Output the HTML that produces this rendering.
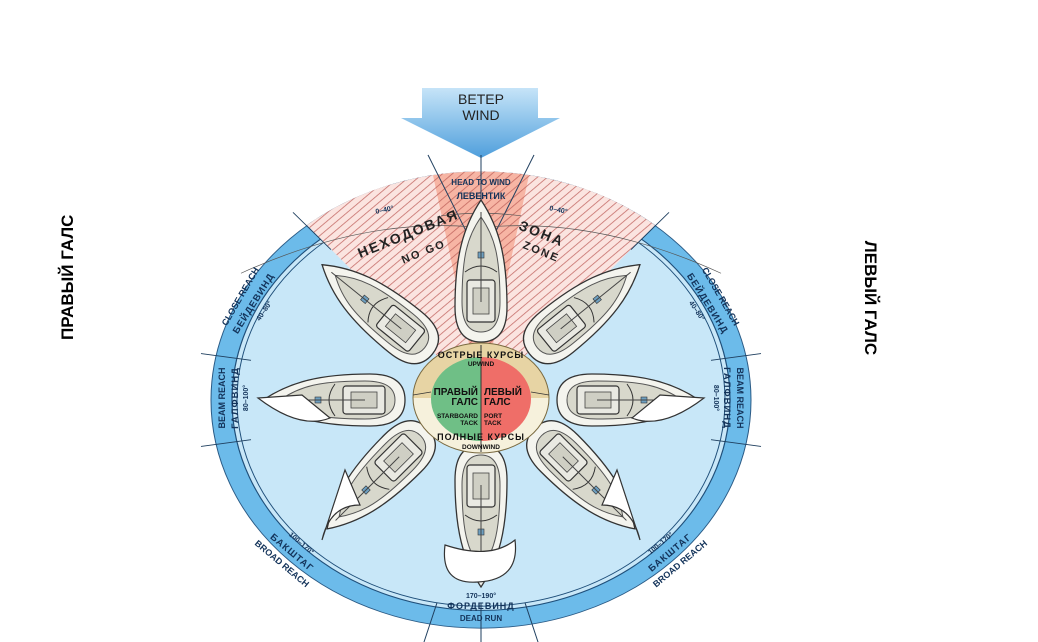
<!DOCTYPE html>
<html><head><meta charset="utf-8"><style>
html,body{margin:0;padding:0;background:#fff;}
body{width:1038px;height:642px;overflow:hidden;position:relative;font-family:"Liberation Sans","DejaVu Sans",sans-serif;}
.side{position:absolute;font-weight:bold;font-size:17px;white-space:nowrap;color:#000;}
</style></head><body>
<div class="side" style="left:8px;top:270px;transform:rotate(-90deg);width:120px;text-align:center;">ПРАВЫЙ ГАЛС</div>
<div class="side" style="left:810px;top:288px;transform:rotate(90deg);width:120px;text-align:center;">ЛЕВЫЙ ГАЛС</div>
<svg width="1038" height="642" viewBox="0 0 1038 642" style="position:absolute;left:0;top:0">
<defs>
<linearGradient id="wg" x1="0" y1="0" x2="0" y2="1"><stop offset="0" stop-color="#c6e4f8"/><stop offset="1" stop-color="#4f9fdc"/></linearGradient>
<pattern id="hatch" width="7" height="7" patternUnits="userSpaceOnUse" patternTransform="rotate(45)">
<rect width="7" height="7" fill="#fbe4e0"/><line x1="0" y1="0" x2="0" y2="7" stroke="#c7726e" stroke-width="1.8"/></pattern>
<pattern id="hatch2" width="7" height="7" patternUnits="userSpaceOnUse" patternTransform="rotate(45)">
<rect width="7" height="7" fill="#f7b5a4"/><line x1="0" y1="0" x2="0" y2="7" stroke="#c56a62" stroke-width="1.8"/></pattern>
<g id="boat">
<path d="M0,-72 C18,-45 26,-15 26,35 Q26,70 0,70 Q-26,70 -26,35 C-26,-15 -18,-45 0,-72Z" fill="#f4f4ee" stroke="#333" stroke-width="1.3"/>
<path d="M0,-55 C14,-35 19,-15 19,30 Q19,60 0,60 Q-19,60 -19,30 C-19,-15 -14,-35 0,-55Z" fill="#d8d8cc" stroke="#555" stroke-width="1"/>
<rect x="-14" y="8" width="28" height="42" rx="3" fill="#e9e9e2" stroke="#333" stroke-width="1.2"/>
<rect x="-8" y="16" width="16" height="26" fill="#cfcfc4" stroke="#444" stroke-width="0.8"/>
<path d="M-16,0 Q0,-12 16,0" fill="none" stroke="#333" stroke-width="1"/>
<rect x="-3" y="-20" width="6" height="6" fill="#6d9fc0" stroke="#333" stroke-width="0.6"/>
<line x1="0" y1="-60" x2="0" y2="30" stroke="#444" stroke-width="1"/>
</g>
</defs>
<!-- wind arrow -->
<path d="M422,88 H538 V118 H560 L481,158 L401,118 H422Z" fill="url(#wg)"/>
<text x="481" y="104" font-size="14" text-anchor="middle" fill="#222">ВЕТЕР</text>
<text x="481" y="120" font-size="14" text-anchor="middle" fill="#222">WIND</text>
<!-- main disk -->
<g transform="translate(481,400) scale(1,0.845)">
<circle r="270" fill="#6cbbea" stroke="#2a5a85" stroke-width="1"/>
<circle r="249" fill="#c8e7f8" stroke="#1f4f7a" stroke-width="1.2"/>
<circle r="244" fill="none" stroke="#1f4f7a" stroke-width="1"/>
<path d="M0,0 L-174,-207 A270,270 0 0,1 174,-207Z" fill="url(#hatch)"/>
<path d="M0,0 L-48,-266 A271,271 0 0,1 48,-266Z" fill="url(#hatch2)"/>
<g stroke="#1f3f5f" stroke-width="1">
<line x1="-150" y1="-178" x2="-188" y2="-222"/><line x1="150" y1="-178" x2="188" y2="-222"/>
<line x1="-15" y1="-200" x2="-53" y2="-290"/><line x1="15" y1="-200" x2="53" y2="-290"/>
<line x1="0" y1="-130" x2="0" y2="-290"/>
<line x1="-230" y1="-47" x2="-280" y2="-55"/><line x1="230" y1="-47" x2="280" y2="-55"/>
<line x1="-230" y1="47" x2="-280" y2="55"/><line x1="230" y1="47" x2="280" y2="55"/>
<line x1="-44" y1="240" x2="-58" y2="290"/><line x1="44" y1="240" x2="58" y2="290"/>
<line x1="0" y1="240" x2="0" y2="290"/>
</g>
<path d="M-240,-150 Q-120,-215 -10,-205" fill="none" stroke="#555" stroke-width="0.8"/>
<path d="M240,-150 Q120,-215 10,-205" fill="none" stroke="#555" stroke-width="0.8"/>
<path d="M-40,-218 Q0,-224 40,-218" fill="none" stroke="#555" stroke-width="0.8"/>
</g>
<!-- boats -->
<use href="#boat" transform="translate(481,272)"/>
<use href="#boat" transform="translate(378,310) rotate(-51)"/>
<use href="#boat" transform="translate(584,310) rotate(51)"/>
<use href="#boat" transform="translate(335,400) rotate(-90)"/>
<use href="#boat" transform="translate(627,400) rotate(90)"/>
<use href="#boat" transform="translate(378,478) rotate(-135)"/>
<use href="#boat" transform="translate(584,478) rotate(135)"/>
<use href="#boat" transform="translate(481,515) rotate(180)"/>
<!-- sails -->
<g fill="#fff" stroke="#333" stroke-width="1.2">
<path d="M445,545 Q440,585 478,582 Q520,580 515,540 Q490,560 445,545Z"/>
<path d="M258,398 Q300,430 330,418 L302,395Z"/>
<path d="M704,398 Q662,430 632,418 L660,395Z"/>
<path d="M322,540 Q330,505 360,505 L345,470Z"/>
<path d="M640,540 Q632,505 602,505 L617,470Z"/>
</g>
<!-- center disk -->
<ellipse cx="481" cy="398" rx="68" ry="55" fill="#f6f1dc"/>
<path d="M413,398 A68,55 0 0,1 549,398Z" fill="#e7d4a4"/>
<ellipse cx="481" cy="398" rx="68" ry="55" fill="none" stroke="#7a6a40" stroke-width="1"/>
<path d="M481,357 A50,42 0 0,0 481,441Z" fill="#6fbf86"/>
<path d="M481,357 A50,42 0 0,1 481,441Z" fill="#ef6e68"/>
<line x1="481" y1="345" x2="481" y2="452" stroke="#333" stroke-width="1"/>
<line x1="413" y1="395" x2="431" y2="392" stroke="#333" stroke-width="0.8"/>
<line x1="531" y1="392" x2="549" y2="395" stroke="#333" stroke-width="0.8"/>
<g font-weight="bold" fill="#111">
<text x="478" y="395" font-size="10" text-anchor="end">ПРАВЫЙ</text>
<text x="478" y="405" font-size="10" text-anchor="end">ГАЛС</text>
<text x="484" y="395" font-size="10">ЛЕВЫЙ</text>
<text x="484" y="405" font-size="10">ГАЛС</text>
<text x="478" y="418" font-size="6.5" text-anchor="end">STARBOARD</text>
<text x="478" y="425" font-size="6.5" text-anchor="end">TACK</text>
<text x="484" y="418" font-size="6.5">PORT</text>
<text x="484" y="425" font-size="6.5">TACK</text>
<text x="481" y="358" font-size="9" text-anchor="middle" letter-spacing="1">ОСТРЫЕ КУРСЫ</text>
<text x="481" y="366" font-size="6.5" text-anchor="middle">UPWIND</text>
<text x="481" y="440" font-size="9" text-anchor="middle" letter-spacing="1">ПОЛНЫЕ КУРСЫ</text>
<text x="481" y="449" font-size="6.5" text-anchor="middle">DOWNWIND</text>
</g>
<!-- ring labels -->
<g font-size="9" font-weight="bold" fill="#13335a" text-anchor="middle">
<text x="481" y="185" font-size="8">HEAD TO WIND</text>
<text x="481" y="199" font-size="9">ЛЕВЕНТИК</text>
<text transform="translate(410,238) rotate(-22)" font-size="14" letter-spacing="2" fill="#222">НЕХОДОВАЯ</text>
<text transform="translate(425,255) rotate(-22)" font-size="11" letter-spacing="2" fill="#222">NO GO</text>
<text transform="translate(540,238) rotate(22)" font-size="14" letter-spacing="2" fill="#222">ЗОНА</text>
<text transform="translate(540,255) rotate(22)" font-size="11" letter-spacing="2" fill="#222">ZONE</text>
<text transform="translate(385,212) rotate(-12)" font-size="7">0–40°</text>
<text transform="translate(558,212) rotate(12)" font-size="7">0–40°</text>
<text transform="translate(243,298) rotate(-60)">CLOSE REACH</text>
<text transform="translate(256,305) rotate(-58)" font-size="9.5" letter-spacing="1">БЕЙДЕВИНД</text>
<text transform="translate(266,312) rotate(-56)" font-size="7">40–80°</text>
<text transform="translate(718,298) rotate(60)">CLOSE REACH</text>
<text transform="translate(705,305) rotate(58)" font-size="9.5" letter-spacing="1">БЕЙДЕВИНД</text>
<text transform="translate(695,312) rotate(56)" font-size="7">40–80°</text>
<text transform="translate(225,398) rotate(-90)">BEAM REACH</text>
<text transform="translate(238,398) rotate(-90)" font-size="9.5" letter-spacing="1">ГАЛФВИНД</text>
<text transform="translate(248,398) rotate(-90)" font-size="7">80–100°</text>
<text transform="translate(737,398) rotate(90)">BEAM REACH</text>
<text transform="translate(724,398) rotate(90)" font-size="9.5" letter-spacing="1">ГАЛФВИНД</text>
<text transform="translate(714,398) rotate(90)" font-size="7">80–100°</text>
<text transform="translate(300,545) rotate(40)" font-size="7">100–170°</text>
<text transform="translate(290,555) rotate(40)" font-size="9.5" letter-spacing="1">БАКШТАГ</text>
<text transform="translate(280,566) rotate(40)">BROAD REACH</text>
<text transform="translate(662,545) rotate(-40)" font-size="7">100–170°</text>
<text transform="translate(672,555) rotate(-40)" font-size="9.5" letter-spacing="1">БАКШТАГ</text>
<text transform="translate(682,566) rotate(-40)">BROAD REACH</text>
<text x="481" y="598" font-size="7">170–190°</text>
<text x="481" y="609" font-size="9" letter-spacing="1">ФОРДЕВИНД</text>
<text x="481" y="621" font-size="8">DEAD RUN</text>
</g>
</svg>
</body></html>
